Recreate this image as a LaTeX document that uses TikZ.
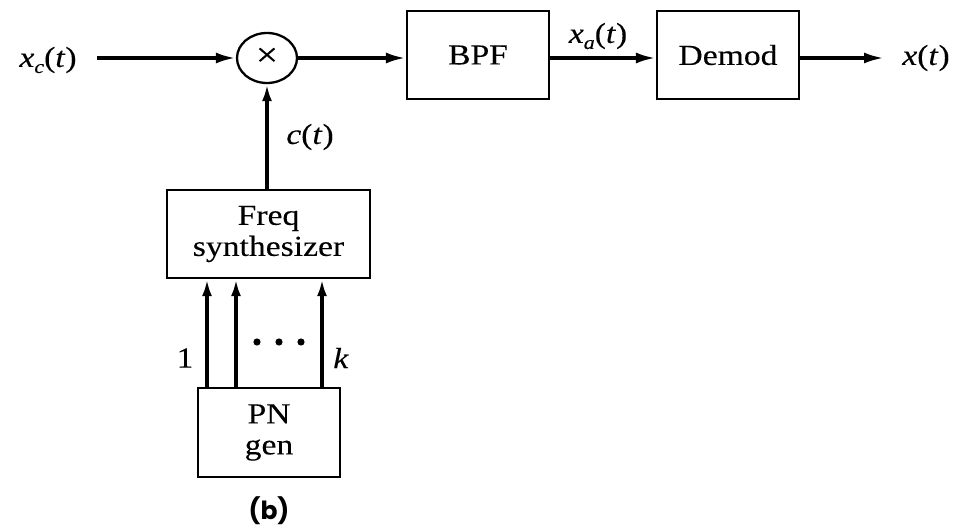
\documentclass[tikz,border=0pt]{standalone}
\usepackage{fontspec}
\setmainfont{Liberation Serif}[FakeStretch=1.16,FakeBold=0.2]
\newfontfamily\capfont{Poppins}
\usetikzlibrary{arrows.meta,shapes.geometric}

% signal name with subscript, e.g. x_c(t)
\newcommand\sigsub[2]{\textit{#1}\raisebox{-6pt}{\fontsize{19}{19}\selectfont\textit{#2}}(\textit{t})}

\begin{document}
\begin{tikzpicture}[x=1pt,y=-1pt,
  every node/.style={font=\fontsize{29}{31}\selectfont},
  block/.style={draw,line width=2.3pt,rectangle,inner sep=0pt,align=center},
  arr/.style={line width=3.4pt,-{Latex[length=20pt,width=11pt]}},
  varr/.style={line width=3.4pt,-{Latex[length=17pt,width=10pt]}},
  lbl/.style={inner sep=0pt}]
\useasboundingbox (0,0) rectangle (954,529);

% blocks
\node[draw,ellipse,line width=2.3pt,minimum width=60pt,minimum height=50pt,inner sep=0pt] (mix) at (267,58) {\fontsize{34}{34}\selectfont\raisebox{2pt}{×}};
\node[block,minimum width=142pt,minimum height=88pt] (bpf) at (478,55) {BPF};
\node[block,minimum width=142pt,minimum height=88pt] (dem) at (728,55) {Demod};
\node[block,minimum width=203pt,minimum height=88pt] (fs) at (268.5,234) {Freq\\synthesizer};
\node[block,minimum width=142pt,minimum height=89pt] (pn) at (269,432.5) {PN\\gen};

% labels
\node[lbl] (xc) at (48,60) {\sigsub{x}{c}};
\node[lbl] (xa) at (598,36) {\sigsub{x}{a}};
\node[lbl] (ct) at (310,137) {\textit{c}(\textit{t})};
\node[lbl] (xo) at (926,58) {\textit{x}(\textit{t})};
\node[lbl] (one) at (185,358) {1};
\node[lbl] (kk) at (341,358) {\textit{k}};
\node[lbl,font=\capfont\bfseries\fontsize{25}{27}\selectfont] (cap) at (269,511) {(b)};

% free ends of the main signal path
\coordinate (in) at (97,58);
\coordinate (out) at (884,58);

% main path
\draw[arr] (in) -- (mix.west);
\draw[arr] (mix.east) -- (bpf.west |- mix.east);
\draw[arr] (bpf.east |- mix.east) -- (dem.west |- mix.east);
\draw[arr] (dem.east |- mix.east) -- (out);

% synthesizer output to mixer
\draw[varr] (fs.north -| mix.south) -- (mix.south);

% PN generator lines 1..k
\coordinate (l1) at (207,0);
\coordinate (l2) at (236,0);
\coordinate (lk) at (322,0);
\draw[varr] (pn.north -| l1) -- (fs.south -| l1);
\draw[varr] (pn.north -| l2) -- (fs.south -| l2);
\draw[varr] (pn.north -| lk) -- (fs.south -| lk);
\foreach \dx in {257,279,301} \fill (\dx,342) circle (3.6pt);
\end{tikzpicture}
\end{document}
